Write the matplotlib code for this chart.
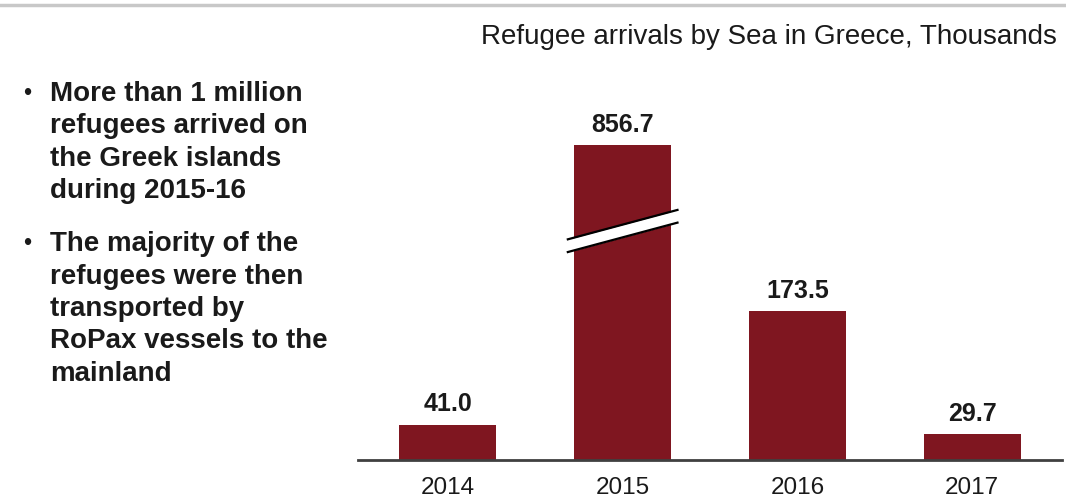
import matplotlib.pyplot as plt
from matplotlib.lines import Line2D
import numpy as np

plt.rcParams['font.family'] = ['Liberation Sans', 'DejaVu Sans']

years = ['2014', '2015', '2016', '2017']
arrivals = [41.0, 856.7, 173.5, 29.7]
labels = ['41.0', '856.7', '173.5', '29.7']
title = 'Refugee arrivals by Sea in Greece, Thousands'
bullets = [
    ['More than 1 million', 'refugees arrived on', 'the Greek islands', 'during 2015-16'],
    ['The majority of the', 'refugees were then', 'transported by',
     'RoPax vessels to the', 'mainland'],
]

W, H = 1066, 499
bar_color = '#7f1620'
text_color = '#1a1a1a'
cap = 366  # display height of the broken bar

fig = plt.figure(figsize=(W / 100, H / 100), dpi=100)

# grey rule across the top
fig.add_artist(Line2D([0, 1], [1 - 5 / H, 1 - 5 / H], color='#c8c8c8', lw=2.5,
                      transform=fig.transFigure))

fig.text(1057 / W, 1 - 37 / H, title, ha='right', va='center', fontsize=20,
         color=text_color)

# bullet text on the left
y = 94
for block in bullets:
    fig.text(27 / W, 1 - y / H, '•', ha='center', va='center', fontsize=17,
             color=text_color)
    for line in block:
        fig.text(50 / W, 1 - y / H, line, ha='left', va='center', fontsize=20,
                 fontweight='bold', color=text_color)
        y += 32.4
    y += 20.5

ax = fig.add_axes([358 / W, 39 / H, 704 / W, 361 / H])
x = np.arange(len(years))
shown = [min(v, cap) for v in arrivals]
ax.bar(x, shown, width=0.555, color=bar_color, zorder=2)

for xi, h, lab in zip(x, shown, labels):
    ax.annotate(lab, (xi, h), xytext=(0, 6), textcoords='offset points',
                ha='center', va='bottom', fontsize=18, fontweight='bold',
                color=text_color)

# break marks on the truncated bar
bi = int(np.argmax(arrivals))
bx = np.array([bi - 0.32, bi + 0.32])
slope = 54.5
mid = cap * 0.728
lower = mid - 7.4 + slope * (bx - bi)
upper = mid + 7.4 + slope * (bx - bi)
ax.fill_between(bx, lower, upper, color='white', zorder=3, lw=0)
ax.plot(bx, lower, color='black', lw=1.6, zorder=4, solid_capstyle='butt')
ax.plot(bx, upper, color='black', lw=1.6, zorder=4, solid_capstyle='butt')

ax.set_xlim(-0.515, 3.515)
ax.set_ylim(0, 420)
ax.set_xticks(x)
ax.set_xticklabels(years, fontsize=17.5, color=text_color)
ax.tick_params(axis='x', length=0, pad=12)
ax.set_yticks([])
for s in ['top', 'right', 'left']:
    ax.spines[s].set_visible(False)
ax.spines['bottom'].set_color('#404040')
ax.spines['bottom'].set_linewidth(2)
ax.spines['bottom'].set_zorder(5)

fig.savefig('out.png', dpi=100)
